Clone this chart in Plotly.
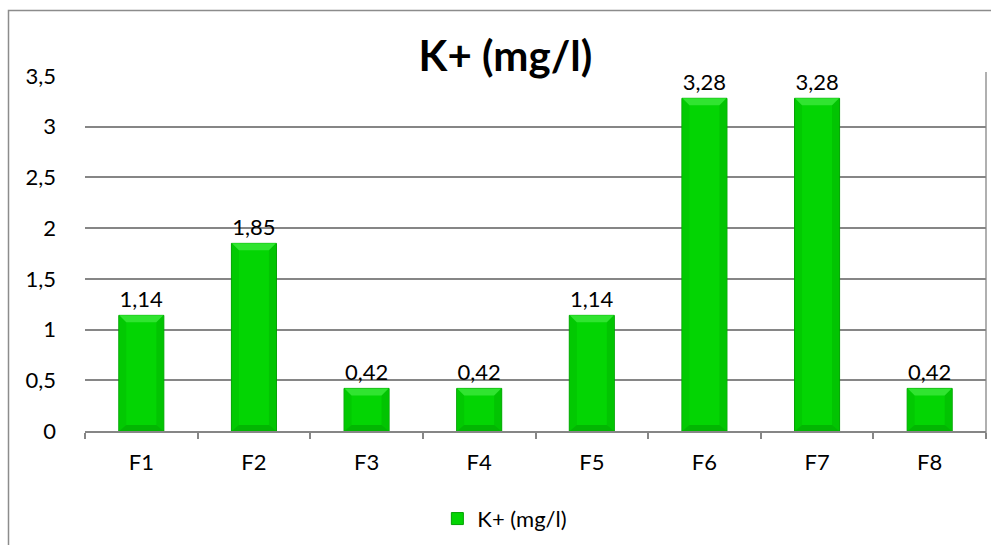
import plotly.graph_objects as go

# Potassium concentration per sample
categories = ["F1", "F2", "F3", "F4", "F5", "F6", "F7", "F8"]
k_values = [1.14, 1.85, 0.42, 0.42, 1.14, 3.28, 3.28, 0.42]
y_ticks = [0, 0.5, 1, 1.5, 2, 2.5, 3, 3.5]
series_name = "K+ (mg/l)"

W, H = 991, 545
L, R, T, B = 85, 5, 76, 109
pw, ph = W - L - R, H - T - B

FONT = "Lato, Open Sans, sans-serif"
GRID = "#868686"
BAR_W = 0.4
HALF = BAR_W * pw / len(categories) / 2   # half bar width in pixels
BEV = 7                                   # bevel depth in pixels

fig = go.Figure()
fig.add_trace(go.Bar(
    x=categories,
    y=k_values,
    name=series_name,
    width=BAR_W,
    marker=dict(color="#03D503", line=dict(color="#02A002", width=1)),
    text=k_values,
    texttemplate="%{y:.2f}",
    textposition="outside",
    cliponaxis=False,
    textfont=dict(family=FONT, size=22, color="#000000"),
))

def px_x(p):
    return (p - L) / pw

def px_y(p):
    return (H - B - p) / ph

shapes = [
    # chart border
    dict(type="rect", xref="paper", yref="paper",
         x0=px_x(8.5), x1=px_x(W + 20), y0=px_y(9.5), y1=px_y(H + 20),
         line=dict(color="#8C8C8C", width=1.5), fillcolor="rgba(0,0,0,0)", layer="below"),
    # right boundary of plot area
    dict(type="line", xref="paper", yref="paper",
         x0=1, x1=1, y0=px_y(72), y1=px_y(443),
         line=dict(color=GRID, width=1.3)),
]

# bevel facets on each bar
h, b = HALF - 0.5, BEV
for i, v in enumerate(k_values):
    common = dict(xref="x", yref="y", xsizemode="pixel", xanchor=i, layer="above",
                  line=dict(width=0))
    # left and right edges (slightly darker strips)
    shapes.append(dict(type="rect", ysizemode="scaled", x0=-h, x1=-h + b, y0=0, y1=v,
                       fillcolor="#02C902", **common))
    shapes.append(dict(type="rect", ysizemode="scaled", x0=h - b, x1=h, y0=0, y1=v,
                       fillcolor="#02C402", **common))
    # top facet (lighter)
    shapes.append(dict(type="path", ysizemode="pixel", yanchor=v,
                       path=f"M {-h},0 L {h},0 L {h - b},{-b} L {-h + b},{-b} Z",
                       fillcolor="#30E430", **common))
    # bottom facet (darker)
    shapes.append(dict(type="path", ysizemode="pixel", yanchor=0,
                       path=f"M {-h},0 L {h},0 L {h - b},{b - 1} L {-h + b},{b - 1} Z",
                       fillcolor="#02B602", **common))

fig.update_layout(
    width=W, height=H,
    margin=dict(l=L, r=R, t=T, b=B, pad=0),
    paper_bgcolor="white", plot_bgcolor="white",
    separators=", ",
    font=dict(family=FONT, size=22, color="#000000"),
    title=dict(text="<b>K+ (mg/l)</b>", x=0.51, xanchor="center",
               y=1 - 56 / H, yanchor="middle",
               font=dict(family=FONT, size=42, color="#000000")),
    showlegend=True,
    legend=dict(orientation="h", x=0.466, xanchor="center", y=px_y(525), yanchor="middle",
                yref="paper", font=dict(family=FONT, size=22), itemwidth=30,
                bgcolor="rgba(0,0,0,0)"),
    xaxis=dict(
        type="category", tickson="boundaries", ticks="outside", ticklen=6,
        tickcolor=GRID, tickwidth=1.5, showline=True, linecolor=GRID, linewidth=1.5,
        showgrid=False, tickfont=dict(family=FONT, size=22), ticklabelstandoff=11,
    ),
    yaxis=dict(
        range=[0, 3.5], tickvals=y_ticks, ticktext=[f"{v:g}".replace(".", ",") for v in y_ticks],
        showgrid=True, gridcolor=GRID, gridwidth=1.5, zeroline=False, showline=False,
        ticks="", ticklabelstandoff=28, tickfont=dict(family=FONT, size=22),
    ),
    shapes=shapes,
    bargap=0.6,
)

fig.write_html("out.html")
